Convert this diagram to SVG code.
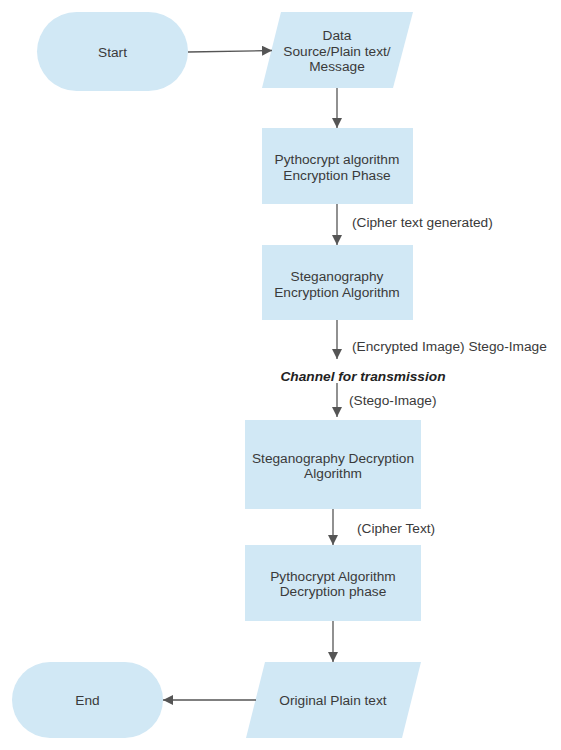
<svg xmlns="http://www.w3.org/2000/svg" width="561" height="750" viewBox="0 0 561 750">
<defs>
<marker id="ah" viewBox="0 0 10 10" refX="10" refY="5" markerWidth="10" markerHeight="10" markerUnits="userSpaceOnUse" orient="auto">
<path d="M0,0 L10,5 L0,10 Z" fill="#555"/>
</marker>
<style>
.n{fill:#d1e8f5;stroke:none}
.t{font-family:"Liberation Sans",Arial,sans-serif;font-size:13.7px;fill:#3a3a3a;text-anchor:middle}
.l{font-family:"Liberation Sans",Arial,sans-serif;font-size:13.7px;fill:#3a3a3a}
.c{stroke:#555;stroke-width:1.3;fill:none;marker-end:url(#ah)}
</style>
</defs>
<rect width="561" height="750" fill="#fff"/>
<g id="start"><rect class="n" x="37" y="12" width="151" height="79" rx="39.5"/><text class="t" x="112.5" y="56.5">Start</text></g>
<g id="data"><polygon class="n" points="281,12 413,12 393,88 262,88"/><text class="t" x="337" y="40">Data</text><text class="t" x="337" y="55.5">Source/Plain text/</text><text class="t" x="337" y="71">Message</text></g>
<g id="pyenc"><rect class="n" x="262" y="128" width="151" height="76"/><text class="t" x="337" y="164">Pythocrypt algorithm</text><text class="t" x="337" y="179.5">Encryption Phase</text></g>
<g id="stegenc"><rect class="n" x="262" y="245" width="151" height="75"/><text class="t" x="337" y="281">Steganography</text><text class="t" x="337" y="296.5">Encryption Algorithm</text></g>
<g id="channel"><text x="363" y="381" text-anchor="middle" style="font-family:'Liberation Sans',Arial,sans-serif;font-size:13.7px;font-weight:bold;font-style:italic;fill:#222">Channel for transmission</text></g>
<g id="stegdec"><rect class="n" x="245" y="420" width="176" height="89"/><text class="t" x="333" y="462.5">Steganography Decryption</text><text class="t" x="333" y="478">Algorithm</text></g>
<g id="pydec"><rect class="n" x="245" y="545" width="176" height="76"/><text class="t" x="333" y="580.5">Pythocrypt Algorithm</text><text class="t" x="333" y="596">Decryption phase</text></g>
<g id="orig"><polygon class="n" points="265,662 421,662 402,738 246,738"/><text class="t" x="333" y="704.5">Original Plain text</text></g>
<g id="end"><rect class="n" x="12" y="662" width="151" height="76" rx="38"/><text class="t" x="87.5" y="704.5">End</text></g>
<g id="connectors">
<path class="c" d="M188,52 L272,50.5"/>
<path class="c" d="M337,88 L337,128"/>
<path class="c" d="M337,204 L337,245"/>
<path class="c" d="M337,320 L337,359"/>
<path class="c" d="M337,383 L337,417"/>
<path class="c" d="M333,509 L333,545"/>
<path class="c" d="M333,621 L333,662"/>
<path class="c" d="M256,700 L163,700"/>
<text class="l" x="352" y="226.5">(Cipher text generated)</text>
<text class="l" x="352" y="350.5">(Encrypted Image) Stego-Image</text>
<text class="l" x="349" y="404.5">(Stego-Image)</text>
<text class="l" x="357" y="532.5">(Cipher Text)</text>
</g>
</svg>
